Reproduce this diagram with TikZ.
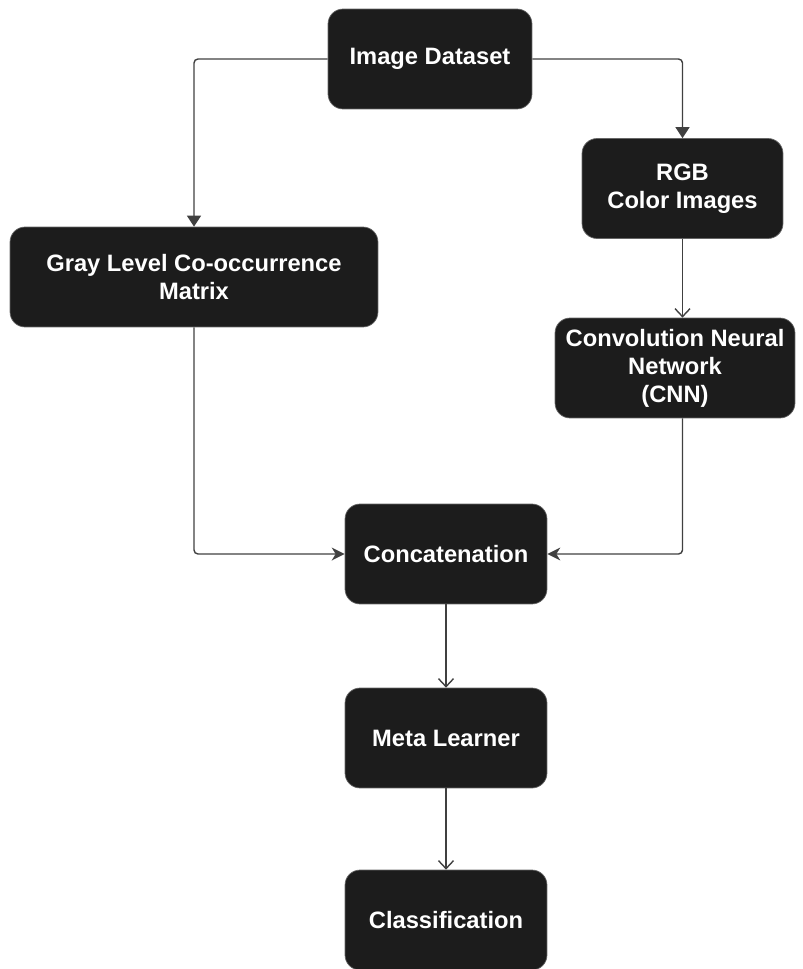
\documentclass[tikz,border=0pt]{standalone}
\usepackage{fontspec}
\setmainfont{Liberation Sans}
\usetikzlibrary{arrows.meta}
\definecolor{boxfill}{HTML}{1C1C1C}
\definecolor{linegray}{HTML}{404040}

\begin{document}
\begin{tikzpicture}[x=0.02cm,y=-0.02cm,
  box/.style={draw=black!60,line width=0.4pt,fill=boxfill,rounded corners=0.3cm,
    text=white,font=\bfseries\fontsize{13.5}{16}\selectfont,align=center,
    inner sep=0pt,minimum height=2cm},
  link/.style={draw=linegray,line width=0.8pt,rounded corners=0.08cm},
  tri/.style={-{Triangle[length=0.22cm,width=0.28cm]}},
  stl/.style={-{Stealth[length=0.26cm,width=0.26cm,inset=0.08cm]}},
  barb/.style={-{Straight Barb[length=0.16cm,width=0.3cm]}}]
  \useasboundingbox (0,0) rectangle (803,969);
  % boxes
  \node[box,minimum width=4.08cm] (data) at (430,59) {Image Dataset};
  \node[box,minimum width=4.02cm] (rgb) at (682.5,188.5) {RGB\\Color Images};
  \node[box,minimum width=7.36cm] (glcm) at (194,277) {Gray Level Co-occurrence\\Matrix};
  \node[box,minimum width=4.8cm] (cnn) at (675,368) {Convolution Neural\\Network\\(CNN)};
  \node[box,minimum width=4.04cm] (concat) at (446,554) {Concatenation};
  \node[box,minimum width=4.04cm] (meta) at (446,738) {Meta Learner};
  \node[box,minimum width=4.04cm] (cls) at (446,920) {Classification};
  % links
  \draw[link,tri] (data.west) -| (glcm.north);
  \draw[link,tri] (data.east) -| (rgb.north);
  \draw[link,barb] (rgb.south) -- (rgb.south |- cnn.north);
  \draw[link,stl] (glcm.south) |- (concat.west);
  \draw[link,stl] (rgb.south |- cnn.south) |- (concat.east);
  \draw[link,barb] (concat.south) -- (meta.north);
  \draw[link,barb] (meta.south) -- (cls.north);
\end{tikzpicture}
\end{document}
